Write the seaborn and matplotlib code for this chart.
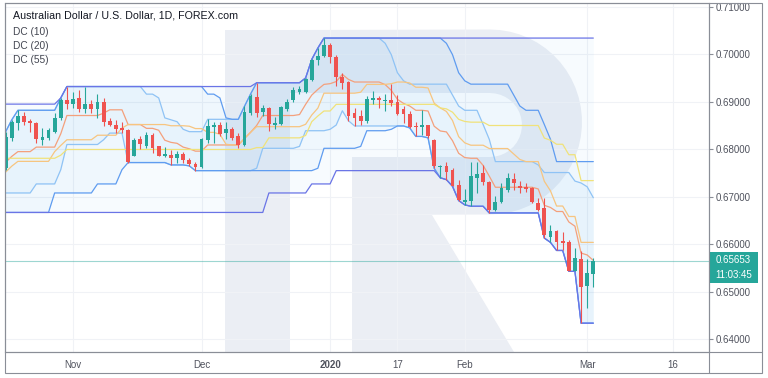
import numpy as np
import pandas as pd
import matplotlib
matplotlib.use('Agg')
import matplotlib.pyplot as plt
from matplotlib.patches import Rectangle, Polygon
from matplotlib.lines import Line2D
import seaborn as sns

# daily OHLC, AUD/USD, 17 Oct 2019 .. 3 Mar 2020
opens = [0.6761, 0.6824, 0.6856, 0.6870, 0.6860, 0.6856, 0.6820, 0.6824, 0.6837, 0.6866,
         0.6904, 0.6896, 0.6908, 0.6884, 0.6896, 0.6884, 0.6900, 0.6860, 0.6851, 0.6844,
         0.6841, 0.6786, 0.6821, 0.6807, 0.6831, 0.6806, 0.6786, 0.6788, 0.6781, 0.6791,
         0.6778, 0.6770, 0.6763, 0.6820, 0.6847, 0.6850, 0.6835, 0.6842, 0.6827, 0.6809,
         0.6876, 0.6911, 0.6878, 0.6887, 0.6851, 0.6854, 0.6884, 0.6903, 0.6921, 0.6921,
         0.6946, 0.6987, 0.6996, 0.7020, 0.6994, 0.6953, 0.6942, 0.6877, 0.6869, 0.6860,
         0.6904, 0.6908, 0.6902, 0.6904, 0.6900, 0.6884, 0.6875, 0.6848, 0.6846, 0.6850,
         0.6820, 0.6763, 0.6765, 0.6757, 0.6725, 0.6690, 0.6692, 0.6740, 0.6749, 0.6732,
         0.6673, 0.6688, 0.6715, 0.6737, 0.6722, 0.6720, 0.6718, 0.6687, 0.6676, 0.6616,
         0.6629, 0.6606, 0.6604, 0.6544, 0.6569, 0.6512, 0.6538]
highs = [0.6837, 0.6862, 0.6882, 0.6879, 0.6864, 0.6858, 0.6845, 0.6845, 0.6877, 0.6908,
         0.6932, 0.6921, 0.6925, 0.6932, 0.6904, 0.6916, 0.6908, 0.6866, 0.6862, 0.6858,
         0.6842, 0.6824, 0.6827, 0.6837, 0.6835, 0.6807, 0.6804, 0.6799, 0.6797, 0.6795,
         0.6782, 0.6774, 0.6824, 0.6863, 0.6858, 0.6858, 0.6858, 0.6847, 0.6835, 0.6890,
         0.6916, 0.6940, 0.6894, 0.6889, 0.6868, 0.6891, 0.6905, 0.6931, 0.6933, 0.6950,
         0.6989, 0.7013, 0.7034, 0.7023, 0.6999, 0.6961, 0.6944, 0.6887, 0.6883, 0.6912,
         0.6923, 0.6912, 0.6916, 0.6937, 0.6914, 0.6891, 0.6880, 0.6858, 0.6882, 0.6852,
         0.6821, 0.6767, 0.6774, 0.6761, 0.6736, 0.6716, 0.6774, 0.6774, 0.6767, 0.6734,
         0.6701, 0.6729, 0.6751, 0.6751, 0.6733, 0.6729, 0.6721, 0.6698, 0.6698, 0.6641,
         0.6631, 0.6625, 0.6610, 0.6592, 0.6585, 0.6569, 0.6571]
lows = [0.6757, 0.6818, 0.6841, 0.6851, 0.6837, 0.6813, 0.6810, 0.6820, 0.6834, 0.6862,
        0.6885, 0.6887, 0.6878, 0.6877, 0.6877, 0.6866, 0.6848, 0.6848, 0.6834, 0.6834,
        0.6772, 0.6785, 0.6800, 0.6803, 0.6792, 0.6785, 0.6784, 0.6767, 0.6772, 0.6771,
        0.6765, 0.6755, 0.6760, 0.6814, 0.6814, 0.6828, 0.6821, 0.6820, 0.6802, 0.6806,
        0.6873, 0.6868, 0.6870, 0.6839, 0.6842, 0.6851, 0.6881, 0.6900, 0.6917, 0.6919,
        0.6944, 0.6978, 0.6994, 0.6981, 0.6933, 0.6926, 0.6860, 0.6849, 0.6851, 0.6855,
        0.6896, 0.6887, 0.6880, 0.6891, 0.6873, 0.6856, 0.6845, 0.6827, 0.6830, 0.6824,
        0.6760, 0.6740, 0.6736, 0.6722, 0.6692, 0.6683, 0.6680, 0.6708, 0.6725, 0.6666,
        0.6669, 0.6686, 0.6711, 0.6715, 0.6708, 0.6711, 0.6687, 0.6669, 0.6613, 0.6604,
        0.6587, 0.6589, 0.6543, 0.6543, 0.6434, 0.6466, 0.6511]
closes = [0.6826, 0.6858, 0.6869, 0.6858, 0.6855, 0.6821, 0.6826, 0.6841, 0.6866, 0.6904,
          0.6896, 0.6906, 0.6884, 0.6896, 0.6884, 0.6900, 0.6858, 0.6851, 0.6842, 0.6840,
          0.6774, 0.6820, 0.6811, 0.6831, 0.6803, 0.6786, 0.6790, 0.6781, 0.6790, 0.6778,
          0.6770, 0.6763, 0.6821, 0.6848, 0.6851, 0.6833, 0.6842, 0.6824, 0.6809, 0.6879,
          0.6912, 0.6877, 0.6887, 0.6854, 0.6856, 0.6889, 0.6900, 0.6924, 0.6926, 0.6947,
          0.6988, 0.6997, 0.7020, 0.6995, 0.6953, 0.6940, 0.6870, 0.6866, 0.6860, 0.6905,
          0.6908, 0.6903, 0.6904, 0.6898, 0.6875, 0.6875, 0.6847, 0.6846, 0.6851, 0.6828,
          0.6764, 0.6765, 0.6753, 0.6723, 0.6694, 0.6694, 0.6743, 0.6748, 0.6731, 0.6673,
          0.6690, 0.6718, 0.6740, 0.6728, 0.6718, 0.6716, 0.6688, 0.6673, 0.6620, 0.6627,
          0.6604, 0.6603, 0.6543, 0.6571, 0.6511, 0.6539, 0.65653]

# highs / lows of the 54 bars before the window, only used to seed the channels
pre_highs = [0.6780, 0.6775, 0.6800, 0.6795, 0.6818, 0.6800, 0.6790, 0.6810, 0.6795, 0.6780,
             0.6790, 0.6800, 0.6785, 0.6770, 0.6760, 0.6770, 0.6780, 0.6760, 0.6750, 0.6748,
             0.6740, 0.6760, 0.6790, 0.6810, 0.6840, 0.6852, 0.6870, 0.6860, 0.6875, 0.6895,
             0.6880, 0.6870, 0.6845, 0.6810, 0.6790, 0.6800, 0.6810, 0.6795, 0.6775, 0.6770,
             0.6765, 0.6760, 0.6750, 0.6760, 0.6745, 0.6770, 0.6765, 0.6780, 0.6790, 0.6808,
             0.6800, 0.6790, 0.6770, 0.6780]
pre_lows = [0.6740, 0.6720, 0.6690, 0.6680, 0.6720, 0.6730, 0.6740, 0.6760, 0.6750, 0.6740,
            0.6745, 0.6760, 0.6740, 0.6730, 0.6720, 0.6710, 0.6720, 0.6700, 0.6690, 0.6688,
            0.6700, 0.6720, 0.6730, 0.6760, 0.6790, 0.6810, 0.6830, 0.6820, 0.6835, 0.6850,
            0.6840, 0.6790, 0.6770, 0.6765, 0.6760, 0.6755, 0.6750, 0.6740, 0.6740, 0.6735,
            0.6730, 0.6700, 0.6667, 0.6715, 0.6735, 0.6740, 0.6735, 0.6712, 0.6715, 0.6708,
            0.6760, 0.6745, 0.6740, 0.6727]

periods = [10, 20, 55]
band_colors = {10: '#8fc3f5', 20: '#5f9cf0', 55: '#6a74e6'}
mid_colors = {10: '#f4a07c', 20: '#f7c580', 55: '#f0e27a'}

tick_dates = ['2019-11-01', '2019-12-02', '2020-01-02', '2020-01-17', '2020-02-03', '2020-03-02', '2020-03-16']
tick_labels = ['Nov', 'Dec', '2020', '17', 'Feb', 'Mar', '16']
price_ticks = [0.64, 0.65, 0.66, 0.67, 0.68, 0.69, 0.70, 0.71]
last_price = 0.65653
countdown = '11:03:45'

title = 'Australian Dollar / U.S. Dollar, 1D, FOREX.com'

# trading days (Christmas and New Year missing in the feed)
dates = pd.bdate_range('2019-10-17', '2020-03-03')
dates = dates[~dates.isin(pd.to_datetime(['2019-12-25', '2020-01-01']))]
x = np.arange(len(dates))

def date_pos(d):
    d = pd.Timestamp(d)
    if d in dates:
        return dates.get_loc(d)
    return len(dates) - 1 + (d - dates[-1]).days

# donchian channels
all_hi = pd.Series(pre_highs + highs)
all_lo = pd.Series(pre_lows + lows)
k = len(pre_highs)
parts = []
chan = {}
for p in periods:
    up = all_hi.rolling(p).max().to_numpy()[k:]
    lo = all_lo.rolling(p).min().to_numpy()[k:]
    chan[p] = (up, lo)
    for name, vals in [('up', up), ('lo', lo), ('mid', (up + lo) / 2)]:
        parts.append(pd.DataFrame({'x': x, 'value': vals, 'line': f'{p}_{name}'}))
df = pd.concat(parts, ignore_index=True)
palette = {f'{p}_{n}': (mid_colors[p] if n == 'mid' else band_colors[p])
           for p in periods for n in ['up', 'lo', 'mid']}

sns.set_theme(style='white')
plt.rcParams['font.family'] = ['Liberation Sans', 'DejaVu Sans']

W, H = 768, 378
fig = plt.figure(figsize=(W / 100, H / 100), dpi=100)
fig.patch.set_facecolor('white')

def fx(px):
    return px / W

def fy(py):
    return 1 - py / H

ax = fig.add_axes([fx(5), fy(352), fx(709) - fx(5), fy(3) - fy(352)])
ax.set_facecolor('white')

# watermark "R"
wm = '#ebeef4'
def add_shape(pts):
    ax.add_patch(Polygon([(fx(a), fy(b)) for a, b in pts], closed=True,
                         transform=fig.transFigure, color=wm, lw=0, zorder=0))

add_shape([(225, 30), (290, 30), (290, 352), (225, 352)])
t = np.linspace(np.pi / 2, -np.pi / 2, 30)
outer = [(290, 30)] + [(490 + 92 * np.cos(a), 122 - 92.5 * np.sin(a)) for a in t] + [(352, 215), (352, 157)]
inner = [(490 + 32 * np.cos(a), 125 + 32 * np.sin(a)) for a in np.linspace(-np.pi / 2, np.pi / 2, 20)]
inner = [(490, 157)] + inner[::-1][1:] + [(290, 93)]
add_shape(outer + inner)
add_shape([(352, 215), (432, 215), (514, 352), (352, 352)])

# grid
for v in price_ticks:
    ax.axhline(v, color='#f0f2f6', lw=0.8, zorder=0.5)
tick_pos = [date_pos(d) for d in tick_dates]
for v in tick_pos:
    ax.axvline(v, color='#f0f2f6', lw=0.8, zorder=0.5)

# channel fills
for p in periods:
    up, lo = chan[p]
    ax.fill_between(x, lo, up, color='#2196f3', alpha=0.035, lw=0, zorder=1)

sns.lineplot(data=df, x='x', y='value', hue='line', palette=palette, legend=False,
             lw=0.9, ax=ax, zorder=2)

# candles
o = np.array(opens)
c = np.array(closes)
cols = np.where(c >= o, '#26a69a', '#ef5350')
ax.vlines(x, lows, highs, colors=cols, lw=0.8, zorder=3)
body = np.maximum(np.abs(c - o), 0.00006)
ax.bar(x, body, bottom=np.minimum(o, c), width=0.62, color=cols, lw=0, zorder=4)

ax.axhline(last_price, color='#26a69a', alpha=0.45, lw=0.8, zorder=2.5)

ax.set_xlim(-0.11, 114.9)
ax.set_ylim(0.63733, 0.71078)

ax.yaxis.tick_right()
ax.set_yticks(price_ticks)
ax.set_yticklabels([f'{v:.5f}' for v in price_ticks])
ax.set_xticks(tick_pos)
ax.set_xticklabels(tick_labels)
for lab in ax.get_xticklabels():
    if lab.get_text() == '2020':
        lab.set_fontweight('bold')
ax.tick_params(axis='y', length=3, width=0.8, color='#8a8e97', labelsize=7, labelcolor='#50535e', pad=2)
ax.tick_params(axis='x', length=3, width=0.8, color='#8a8e97', labelsize=7, labelcolor='#50535e', pad=3)
ax.set_xlabel('')
ax.set_ylabel('')
for s in ax.spines.values():
    s.set_color('#8a8e97')
    s.set_linewidth(0.8)

# outer frame and axis separators
fcol = '#8a8e97'
fig.add_artist(Rectangle((fx(5), fy(373)), fx(762) - fx(5), fy(3) - fy(373), transform=fig.transFigure,
                         fill=False, ec=fcol, lw=0.8))
fig.add_artist(Line2D([fx(709), fx(709)], [fy(3), fy(373)], transform=fig.transFigure, color=fcol, lw=0.8))
fig.add_artist(Line2D([fx(5), fx(762)], [fy(352), fy(352)], transform=fig.transFigure, color=fcol, lw=0.8))

# last price and countdown tags
for (y0, y1, txt) in [(252, 267.5, f'{last_price:.5f}'), (268, 283, countdown)]:
    fig.add_artist(Rectangle((fx(709), fy(y1)), fx(758) - fx(709), fy(y0) - fy(y1),
                             transform=fig.transFigure, color='#26a69a', lw=0))
    fig.text(fx(733.5), fy((y0 + y1) / 2), txt, color='white', fontsize=7, ha='center', va='center')

# header texts
fig.text(fx(13), fy(16), title, fontsize=7.7, color='#131722', ha='left', va='center')
for i, lab in enumerate(['DC (10)', 'DC (20)', 'DC (55)']):
    fig.text(fx(13), fy(32 + 14 * i), lab, fontsize=7.3, color='#434651', ha='left', va='center')

fig.savefig('out.png', dpi=100)
